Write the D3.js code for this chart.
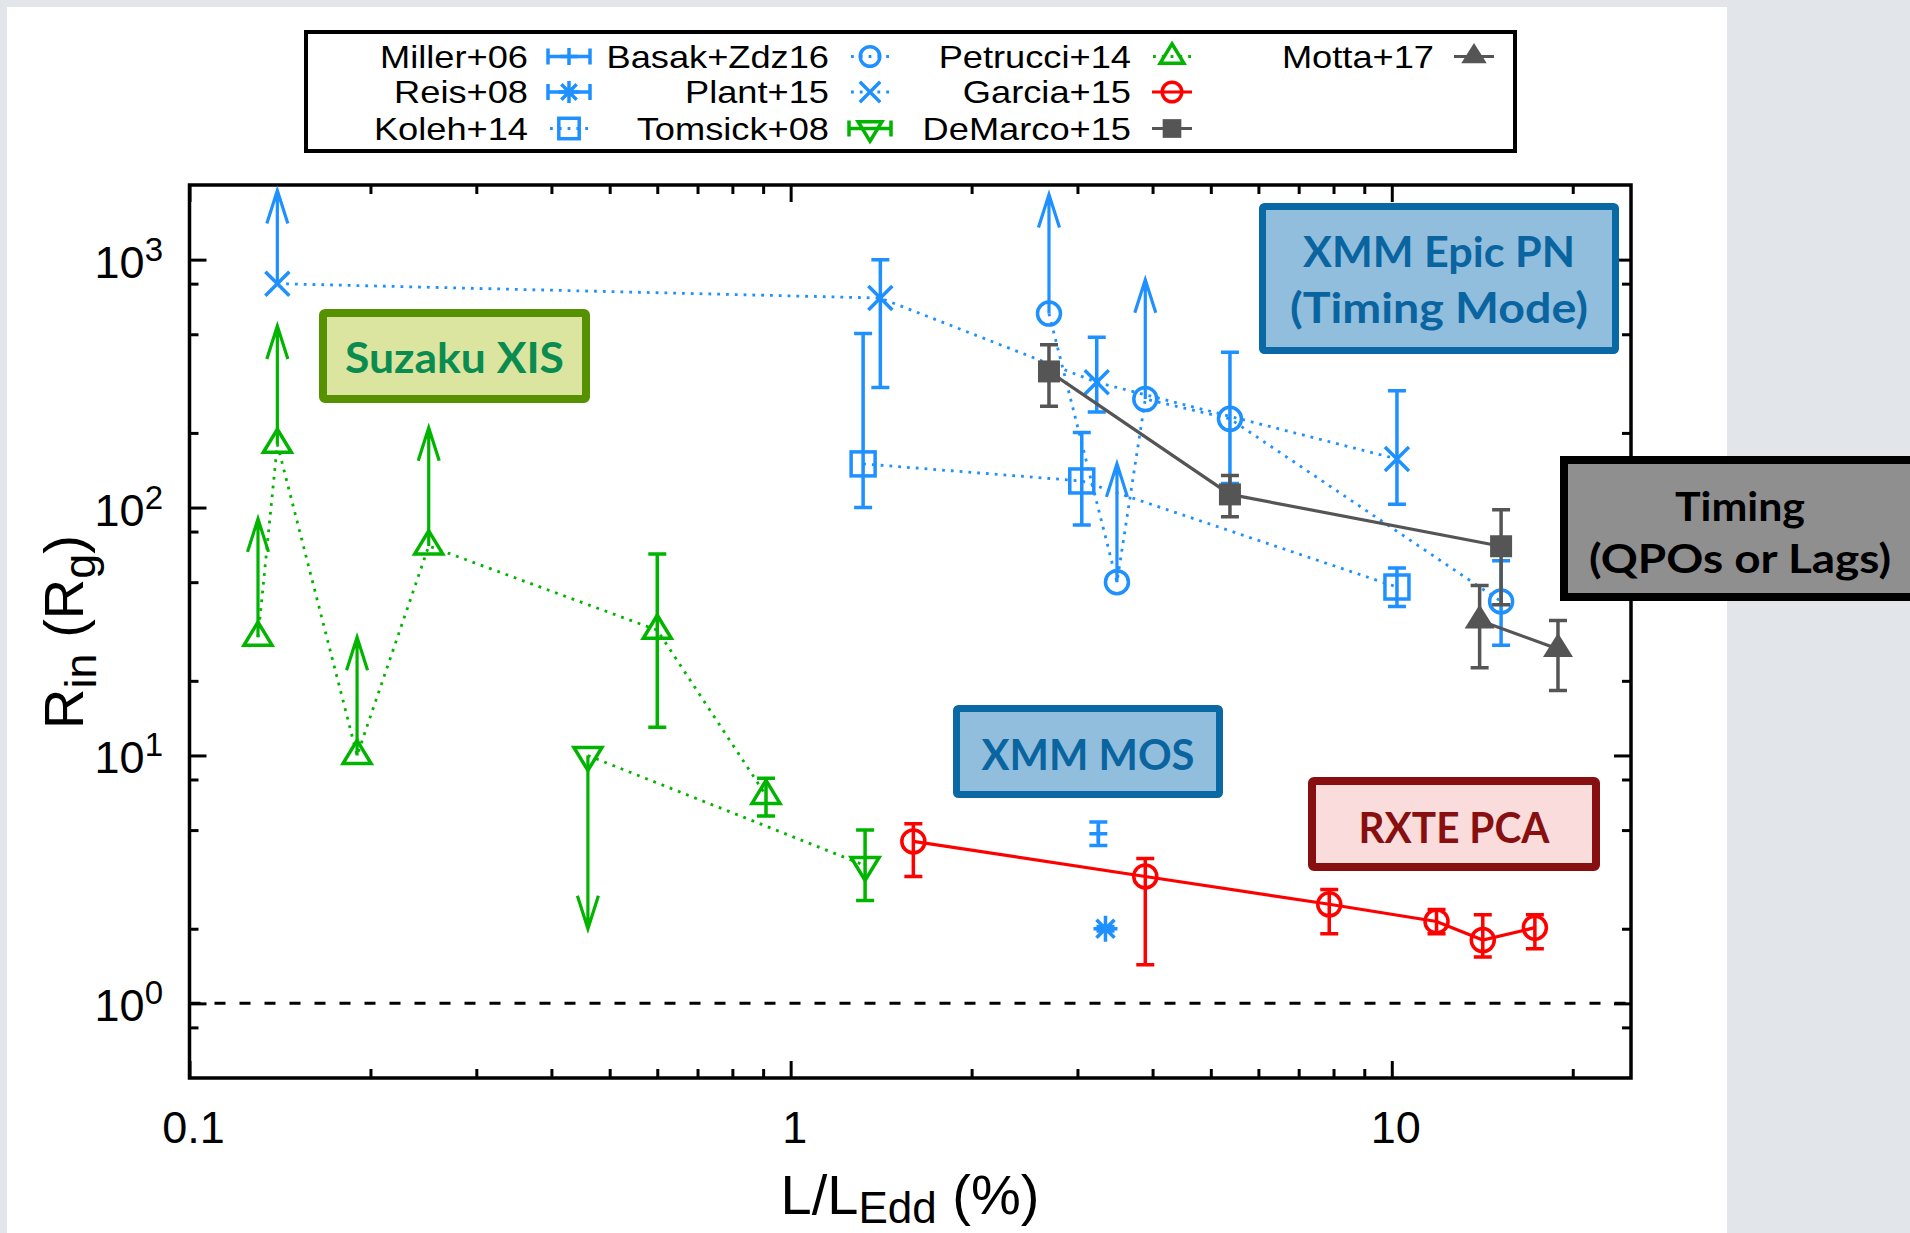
<!DOCTYPE html>
<html><head><meta charset="utf-8">
<script src="https://cdn.jsdelivr.net/npm/d3@7"></script>
<style>
html,body{margin:0;padding:0;background:#e3e6ea;}
svg{display:block;}
</style></head>
<body>
<svg id="chart" width="1910" height="1233"></svg>
<script>
// ---------------- data ----------------
const xTickMajor = [0.1, 1, 10];
const xTickLabels = ["0.1", "1", "10"];
const xTickMinor = [0.2,0.3,0.4,0.5,0.6,0.7,0.8,0.9,2,3,4,5,6,7,8,9,20];
const yTickMajor = [1, 10, 100, 1000];
const yTickExponents = ["0", "1", "2", "3"];
const yTickMinor = [0.8, 2, 5, 8, 20, 50, 80, 200, 500, 800];

const legendNames = ["Miller+06","Reis+08","Koleh+14","Basak+Zdz16","Plant+15","Tomsick+08","Petrucci+14","Garcia+15","DeMarco+15","Motta+17"];

const millerX = [3.25], millerY = [4.83], millerLo = [4.33], millerHi = [5.39];
const reisX = [3.34], reisY = [2.0], reisLo = [1.96], reisHi = [2.04];

const kolehX = [1.32, 3.05, 10.2];
const kolehY = [150, 128, 47.8];
const kolehLo = [100, 85, 39.9];
const kolehHi = [503, 201, 57];

const basakX = [2.69, 3.49, 3.89, 5.38, 15.2];
const basakY = [606, 50, 274, 228, 41.8];
const basakLo = [null, null, null, 125, 27.8];
const basakHi = [null, null, null, 423, 61];
const basakLimit = [1830, 150, 830, null, null];

const plantX = [0.14, 1.41, 3.23, 10.2];
const plantY = [800, 700, 320, 157];
const plantLo = [null, 305, 243, 103];
const plantHi = [null, 1000, 486, 296];
const plantLimit = [1900, null, null, null];

const tomsickX = [0.46, 1.33];
const tomsickY = [10, 3.6];
const tomsickLo = [null, 2.6];
const tomsickHi = [null, 5.0];
const tomsickLimit = [2.0, null];

const petrucciX = [0.13, 0.14, 0.19, 0.25, 0.60, 0.91];
const petrucciY = [30, 180, 10, 70, 32, 6.9];
const petrucciLo = [null, null, null, null, 13, 5.7];
const petrucciHi = [null, null, null, null, 65, 8.1];
const petrucciLimit = [90, 540, 30, 210, null, null];

const garciaX = [1.6, 3.89, 7.87, 11.87, 14.17, 17.3];
const garciaY = [4.5, 3.25, 2.51, 2.14, 1.80, 2.02];
const garciaLo = [3.25, 1.43, 1.91, 1.91, 1.54, 1.66];
const garciaHi = [5.3, 3.84, 2.88, 2.39, 2.28, 2.28];

const demarcoX = [2.69, 5.38, 15.2];
const demarcoY = [354, 113, 69.8];
const demarcoLo = [256, 91.7, 40.5];
const demarcoHi = [454, 134.6, 98];

const mottaX = [14.0, 18.9];
const mottaY = [35, 26.9];
const mottaLo = [22.6, 18.3];
const mottaHi = [48.5, 35];

const boxLabels = [["Suzaku XIS"], ["XMM Epic PN", "(Timing Mode)"], ["XMM MOS"], ["RXTE PCA"], ["Timing", "(QPOs or Lags)"]];

// ---------------- setup ----------------
const BLUE = "#1e90ff", GREEN = "#00b400", RED = "#ff0000", GRAY = "#555555";
const svg = d3.select("#chart");
svg.append("rect").attr("width",1910).attr("height",1233).attr("fill","#e2e5e9");
svg.append("rect").attr("x",7).attr("y",7).attr("width",1720).attr("height",1226).attr("fill","#ffffff");

const L = 189.5, R = 1631, T = 185, B = 1078;
const x = d3.scaleLog().domain([0.1, 25]).range([L, R]);
const y = d3.scaleLog().domain([0.5, 2000]).range([B, T]);

const FONT = "'Liberation Sans', Arial, Helvetica, sans-serif";

// dashed line at R=1
svg.append("line").attr("x1",L).attr("x2",R).attr("y1",y(1)).attr("y2",y(1))
  .attr("stroke","#000").attr("stroke-width",3).attr("stroke-dasharray","11,14");

// ticks
function tickAxis(gen, tf, vals, size){
  const g = svg.append("g").attr("transform", tf)
    .call(gen.tickValues(vals).tickSize(-size).tickSizeOuter(0).tickFormat(""));
  g.select(".domain").remove();
  g.selectAll("line").attr("stroke","#000").attr("stroke-width",3);
}
tickAxis(d3.axisBottom(x), `translate(0,${B})`, xTickMajor, 17);
tickAxis(d3.axisBottom(x), `translate(0,${B})`, xTickMinor, 9);
tickAxis(d3.axisTop(x), `translate(0,${T})`, xTickMajor, 17);
tickAxis(d3.axisTop(x), `translate(0,${T})`, xTickMinor, 9);
tickAxis(d3.axisLeft(y), `translate(${L},0)`, yTickMajor, 17);
tickAxis(d3.axisLeft(y), `translate(${L},0)`, yTickMinor, 9);
tickAxis(d3.axisRight(y), `translate(${R},0)`, yTickMajor, 17);
tickAxis(d3.axisRight(y), `translate(${R},0)`, yTickMinor, 9);

// frame
svg.append("rect").attr("x",L).attr("y",T).attr("width",R-L).attr("height",B-T)
  .attr("fill","none").attr("stroke","#000").attr("stroke-width",3.5);

// tick labels
xTickMajor.forEach((v,i)=>{
  svg.append("text").attr("x",x(v)+4).attr("y",1143).attr("text-anchor","middle")
    .attr("font-family",FONT).attr("font-size",45).text(xTickLabels[i]);
});
yTickMajor.forEach((v,i)=>{
  const t = svg.append("text").attr("x",163).attr("y",y(v)+18).attr("text-anchor","end")
    .attr("font-family",FONT).attr("font-size",45);
  t.append("tspan").text("10");
  t.append("tspan").attr("font-size",33).attr("dy",-17).text(yTickExponents[i]);
});

// axis titles
const xt = svg.append("text").attr("x",910).attr("y",1214).attr("text-anchor","middle")
  .attr("font-family",FONT).attr("font-size",56);
xt.append("tspan").text("L/L");
xt.append("tspan").attr("font-size",44).attr("dy",9).text("Edd");
xt.append("tspan").attr("dy",-9).text(" (%)");

const yt = svg.append("text").attr("transform","translate(83,632) rotate(-90)").attr("text-anchor","middle")
  .attr("font-family",FONT).attr("font-size",56);
yt.append("tspan").text("R");
yt.append("tspan").attr("font-size",45).attr("dy",13).text("in");
yt.append("tspan").attr("dy",-13).text(" (R");
yt.append("tspan").attr("font-size",45).attr("dy",12).text("g");
yt.append("tspan").attr("dy",-12).text(")");

// ---------------- symbols ----------------
const SW = 3.5;
function symbol(g, type, cx, cy, color, k){
  k = k || 1;
  const t = g.append("g").attr("transform",`translate(${cx},${cy}) scale(${k})`);
  const st = (s)=>s.attr("fill","none").attr("stroke",color).attr("stroke-width",SW/k);
  if(type==="circle") st(t.append("circle").attr("r",11.5));
  else if(type==="square") st(t.append("rect").attr("x",-12).attr("y",-12).attr("width",24).attr("height",24));
  else if(type==="cross") st(t.append("path").attr("d","M-12,-12L12,12M-12,12L12,-12"));
  else if(type==="triUp") st(t.append("path").attr("d","M0,-15L14,8L-14,8Z"));
  else if(type==="triDown") st(t.append("path").attr("d","M0,15L14,-8L-14,-8Z"));
  else if(type==="plus") st(t.append("path").attr("d","M-9,0L9,0M0,-9L0,9"));
  else if(type==="star") st(t.append("path").attr("d","M-12,0L12,0M0,-13L0,13M-9,-9L9,9M-9,9L9,-9"));
  else if(type==="fsquare") t.append("rect").attr("x",-11).attr("y",-11).attr("width",22).attr("height",22).attr("fill",color);
  else if(type==="ftri") t.append("path").attr("d","M0,-16L15,8L-15,8Z").attr("fill",color);
}

function errbar(g, px, lo, hi, color){
  const y1 = y(lo), y2 = y(hi);
  g.append("path").attr("d",`M${px},${y1}L${px},${y2}M${px-9},${y1}L${px+9},${y1}M${px-9},${y2}L${px+9},${y2}`)
    .attr("fill","none").attr("stroke",color).attr("stroke-width",3.5);
}
function arrow(g, px, py, tip, color){
  const ty = y(tip), dir = ty < py ? 1 : -1;
  g.append("path").attr("d",`M${px},${py}L${px},${ty}M${px-10.5},${ty+33*dir}L${px},${ty}L${px+10.5},${ty+33*dir}`)
    .attr("fill","none").attr("stroke",color).attr("stroke-width",3.2);
}

const plotG = svg.append("g");
function series(xs, ys, los, his, lims, color, type, lineStyle){
  const pts = xs.map((v,i)=>[x(v), y(ys[i])]);
  if(lineStyle){
    const p = plotG.append("path").attr("d", d3.line()(pts)).attr("fill","none").attr("stroke",color);
    if(lineStyle==="dotted") p.attr("stroke-width",2.8).attr("stroke-dasharray","2.8,6");
    else p.attr("stroke-width",3.2);
  }
  pts.forEach((p,i)=>{
    if(los && los[i]!=null) errbar(plotG, p[0], los[i], his[i], color);
    if(lims && lims[i]!=null) arrow(plotG, p[0], p[1], lims[i], color);
  });
  pts.forEach(p=>symbol(plotG, type, p[0], p[1], color));
}

series(millerX, millerY, millerLo, millerHi, null, BLUE, "plus", null);
series(reisX, reisY, reisLo, reisHi, null, BLUE, "star", null);
series(kolehX, kolehY, kolehLo, kolehHi, null, BLUE, "square", "dotted");
series(basakX, basakY, basakLo, basakHi, basakLimit, BLUE, "circle", "dotted");
series(plantX, plantY, plantLo, plantHi, plantLimit, BLUE, "cross", "dotted");
series(tomsickX, tomsickY, tomsickLo, tomsickHi, tomsickLimit, GREEN, "triDown", "dotted");
series(petrucciX, petrucciY, petrucciLo, petrucciHi, petrucciLimit, GREEN, "triUp", "dotted");
series(garciaX, garciaY, garciaLo, garciaHi, null, RED, "circle", "solid");
series(demarcoX, demarcoY, demarcoLo, demarcoHi, null, GRAY, "fsquare", "solid");
series(mottaX, mottaY, mottaLo, mottaHi, null, GRAY, "ftri", "solid");

// ---------------- legend ----------------
svg.append("rect").attr("x",306).attr("y",32).attr("width",1209).attr("height",119)
  .attr("fill","#fff").attr("stroke","#000").attr("stroke-width",4);
const colText = [528, 829, 1131, 1434], colSym = [569, 870, 1172, 1474];
const rowBase = [67.5, 103, 139.5];
const legendStyle = [
  [0,0,BLUE,"plus","err"],[0,1,BLUE,"star","err"],[0,2,BLUE,"square","dotted"],
  [1,0,BLUE,"circle","dotted"],[1,1,BLUE,"cross","dotted"],[1,2,GREEN,"triDown","err"],
  [2,0,GREEN,"triUp","dotted"],[2,1,RED,"circle","solid"],[2,2,GRAY,"fsquare","solid"],
  [3,0,GRAY,"ftri","solid"]];
const lg = svg.append("g");
legendNames.forEach((name,i)=>{
  const [c,r,color,type,ls] = legendStyle[i];
  const cy = rowBase[r]-11, cx = colSym[c];
  const tx = lg.append("text").attr("x",colText[c]).attr("y",rowBase[r]).attr("text-anchor","end")
    .attr("font-family",FONT).attr("font-size",31.5).text(name);
  const w = tx.node().getComputedTextLength();
  tx.attr("textLength", w*1.15).attr("lengthAdjust","spacingAndGlyphs");
  if(ls==="err"){
    lg.append("path").attr("d",`M${cx-21},${cy}L${cx+21},${cy}M${cx-21},${cy-8}L${cx-21},${cy+8}M${cx+21},${cy-8}L${cx+21},${cy+8}`)
      .attr("fill","none").attr("stroke",color).attr("stroke-width",3.5);
  } else if(ls==="dotted"){
    lg.append("line").attr("x1",cx-19).attr("x2",cx+21).attr("y1",cy).attr("y2",cy)
      .attr("stroke",color).attr("stroke-width",2.8).attr("stroke-dasharray","2.8,6");
  } else {
    lg.append("line").attr("x1",cx-20).attr("x2",cx+20).attr("y1",cy).attr("y2",cy)
      .attr("stroke",color).attr("stroke-width",3.2);
  }
  symbol(lg, type, cx, cy, color, type==="plus"?0.95:0.85);
});

// ---------------- annotation boxes ----------------
const BOXFONT = "Lato, 'Open Sans', 'DejaVu Sans', sans-serif";
function box(x0,y0,x1,y1,bw,stroke,fill,lines,textColor,baselines,widths,fs){
  svg.append("rect").attr("x",x0+bw/2).attr("y",y0+bw/2).attr("width",x1-x0-bw).attr("height",y1-y0-bw)
    .attr("rx",2).attr("fill",fill).attr("stroke",stroke).attr("stroke-width",bw);
  lines.forEach((s,i)=>{
    svg.append("text").attr("x",(x0+x1)/2).attr("y",baselines[i])
      .attr("text-anchor","middle").attr("font-family",BOXFONT).attr("font-weight",700)
      .attr("font-size",fs).attr("fill",textColor)
      .attr("textLength",widths[i]).attr("lengthAdjust","spacingAndGlyphs").text(s);
  });
}
box(319,309,590,403,8,"#559100","#dce5a0",boxLabels[0],"#0a8c50",[373],[219],42);
box(1259,203,1619,354,7,"#0a69a5","#91bedc",boxLabels[1],"#0a64a0",[267,323],[272,298],42);
box(953,705,1223,798,7,"#0a69a5","#91bedc",boxLabels[2],"#0a64a0",[770],[213],42);
box(1308,777,1600,871,8,"#870f0f","#fadcdc",boxLabels[3],"#870f0f",[843],[191],42);
// Timing box (extends beyond right edge)
svg.append("rect").attr("x",1564).attr("y",460).attr("width",400).attr("height",137)
  .attr("fill","#8f8f8f").attr("stroke","#000").attr("stroke-width",8);
[["Timing",520.5,130],["(QPOs or Lags)",573,302]].forEach((d,i)=>{
  svg.append("text").attr("x",1740).attr("y",d[1]).attr("text-anchor","middle")
    .attr("font-family",BOXFONT).attr("font-weight",700).attr("font-size",40).attr("fill","#000")
    .attr("textLength",d[2]).attr("lengthAdjust","spacingAndGlyphs").text(boxLabels[4][i]);
});
</script>
</body></html>
